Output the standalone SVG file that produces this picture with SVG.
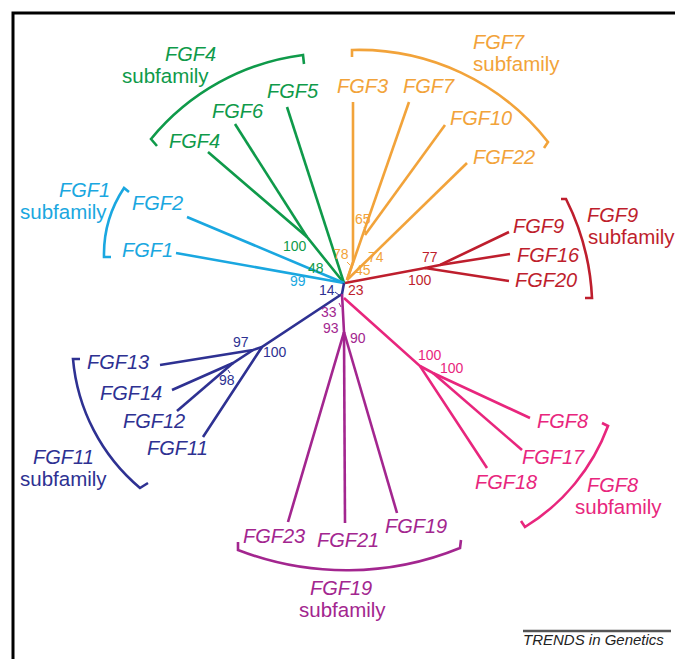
<svg xmlns="http://www.w3.org/2000/svg" width="675" height="659" viewBox="0 0 675 659">
  <style>
    .lbl { font-family: "Liberation Sans", Arial, sans-serif; font-size: 20px; font-style: italic; }
    .sub { font-family: "Liberation Sans", Arial, sans-serif; font-size: 20.5px; }
    .num { font-family: "Liberation Sans", Arial, sans-serif; font-size: 14px; }
    .br { fill: none; stroke-width: 2.6; stroke-linejoin: miter; }
    line, polyline { stroke-width: 2.6; fill: none; stroke-linecap: butt; }
    .tick { stroke-width: 1; }
    .green { fill: #0f9a4a; } .s-green { stroke: #0f9a4a; }
    .orange { fill: #f2a33a; } .s-orange { stroke: #f2a33a; }
    .red { fill: #be1e2d; } .s-red { stroke: #be1e2d; }
    .blue { fill: #1aa7e0; } .s-blue { stroke: #1aa7e0; }
    .navy { fill: #2e3192; } .s-navy { stroke: #2e3192; }
    .mag { fill: #a3268f; } .s-mag { stroke: #a3268f; }
    .pink { fill: #e8267d; } .s-pink { stroke: #e8267d; }
  </style>

  <!-- frame -->
  <path d="M13,659 V13 H675" fill="none" stroke="#000" stroke-width="3"/>

  <!-- tree branches -->
  <g id="connectors">
    <!-- FGF4 subfamily -->
    <polyline class="s-green" points="208,152 307,237 344,283"/>
    <line class="s-green" x1="235" y1="124" x2="307" y2="237"/>
    <line class="s-green" x1="287" y1="107" x2="344" y2="283"/>
    <!-- FGF7 subfamily -->
    <polyline class="s-orange" points="353,102 353,262 347,280"/>
    <line class="s-orange" x1="409" y1="102" x2="347" y2="280"/>
    <line class="s-orange" x1="445" y1="125" x2="365" y2="235"/>
    <line class="s-orange" x1="467" y1="163" x2="347" y2="280"/>
    <!-- FGF9 subfamily -->
    <polyline class="s-red" points="345,283 425,268 509,281"/>
    <polyline class="s-red" points="425,268 440,265 509,232"/>
    <line class="s-red" x1="440" y1="265" x2="510" y2="254"/>
    <!-- FGF1 subfamily -->
    <line class="s-blue" x1="187" y1="217" x2="344" y2="283"/>
    <line class="s-blue" x1="176" y1="253" x2="344" y2="283"/>
    <!-- FGF11 subfamily -->
    <polyline class="s-navy" points="344,283 342,294 262,347 203,437"/>
    <polyline class="s-navy" points="160,365 253,350 262,347"/>
    <polyline class="s-navy" points="172,390 233,363 253,350"/>
    <line class="s-navy" x1="177" y1="411" x2="233" y2="363"/>
    <!-- FGF19 subfamily -->
    <polyline class="s-mag" points="342,294 344,332 288,522"/>
    <line class="s-mag" x1="344" y1="332" x2="345" y2="523"/>
    <line class="s-mag" x1="344" y1="332" x2="397" y2="513"/>
    <!-- FGF8 subfamily -->
    <polyline class="s-pink" points="344,298 420,366 487,468"/>
    <polyline class="s-pink" points="420,366 433,373 530,418"/>
    <line class="s-pink" x1="433" y1="373" x2="522" y2="450"/>
    <!-- small leader ticks for crowded support values -->
    <line class="tick s-orange" x1="364" y1="227" x2="366" y2="233"/>
    <line class="tick s-orange" x1="347" y1="262" x2="350" y2="265"/>
    <line class="tick s-navy" x1="335" y1="292" x2="339" y2="295"/>
    <line class="tick s-mag" x1="339" y1="303" x2="341" y2="307"/>
    <line class="tick s-navy" x1="228" y1="370" x2="230" y2="373"/>
  </g>

  <!-- support values -->
  <g id="support">
    <text class="num orange" x="355" y="224">65</text>
    <text class="num orange" x="333" y="259">78</text>
    <text class="num orange" x="368" y="262">74</text>
    <text class="num orange" x="355" y="275">45</text>
    <text class="num green" x="283" y="251">100</text>
    <text class="num green" x="308" y="273">48</text>
    <text class="num blue" x="290" y="286">99</text>
    <text class="num navy" x="319" y="295">14</text>
    <text class="num red" x="348" y="295">23</text>
    <text class="num mag" x="321" y="317">33</text>
    <text class="num red" x="422" y="262">77</text>
    <text class="num red" x="408" y="285">100</text>
    <text class="num navy" x="233" y="347">97</text>
    <text class="num navy" x="263" y="357">100</text>
    <text class="num navy" x="219" y="385">98</text>
    <text class="num mag" x="323" y="333">93</text>
    <text class="num mag" x="350" y="343">90</text>
    <text class="num pink" x="418" y="360">100</text>
    <text class="num pink" x="440" y="373">100</text>
  </g>

  <!-- FGF4 subfamily -->
  <g id="fgf4-subfamily">
    <text class="lbl green" x="169" y="148">FGF4</text>
    <text class="lbl green" x="212" y="118">FGF6</text>
    <text class="lbl green" x="267" y="98">FGF5</text>
    <path class="br s-green" d="M157,146 L151,139 A235,235 0 0 1 303,55 L304,64"/>
    <text class="lbl green" x="165" y="61">FGF4</text>
    <text class="sub green" x="122" y="83">subfamily</text>
  </g>

  <!-- FGF7 subfamily -->
  <g id="fgf7-subfamily">
    <text class="lbl orange" x="337" y="93">FGF3</text>
    <text class="lbl orange" x="403" y="93">FGF7</text>
    <text class="lbl orange" x="450" y="125">FGF10</text>
    <text class="lbl orange" x="473" y="164">FGF22</text>
    <path class="br s-orange" d="M352,57 L352,50 A240,240 0 0 1 548,142 L544,148"/>
    <text class="lbl orange" x="473" y="49">FGF7</text>
    <text class="sub orange" x="473" y="71">subfamily</text>
  </g>

  <!-- FGF9 subfamily -->
  <g id="fgf9-subfamily">
    <text class="lbl red" x="513" y="233">FGF9</text>
    <text class="lbl red" x="517" y="262">FGF16</text>
    <text class="lbl red" x="515" y="287">FGF20</text>
    <path class="br s-red" d="M561,199 L566,199 A245,245 0 0 1 592,298 L585,298"/>
    <text class="lbl red" x="587" y="222">FGF9</text>
    <text class="sub red" x="588" y="244">subfamily</text>
  </g>

  <!-- FGF1 subfamily -->
  <g id="fgf1-subfamily">
    <text class="lbl blue" x="132" y="210">FGF2</text>
    <text class="lbl blue" x="122" y="257">FGF1</text>
    <path class="br s-blue" d="M129,192 L124,188 A120,120 0 0 0 104,257 L111,257"/>
    <text class="lbl blue" x="59" y="197">FGF1</text>
    <text class="sub blue" x="20" y="219">subfamily</text>
  </g>

  <!-- FGF11 subfamily -->
  <g id="fgf11-subfamily">
    <text class="lbl navy" x="87" y="369">FGF13</text>
    <text class="lbl navy" x="100" y="400">FGF14</text>
    <text class="lbl navy" x="123" y="428">FGF12</text>
    <text class="lbl navy" x="147" y="455">FGF11</text>
    <path class="br s-navy" d="M80,359 L73,359 A190,190 0 0 0 140,488 L148,483"/>
    <text class="lbl navy" x="33" y="464">FGF11</text>
    <text class="sub navy" x="20" y="486">subfamily</text>
  </g>

  <!-- FGF19 subfamily -->
  <g id="fgf19-subfamily">
    <text class="lbl mag" x="243" y="543">FGF23</text>
    <text class="lbl mag" x="317" y="547">FGF21</text>
    <text class="lbl mag" x="385" y="533">FGF19</text>
    <path class="br s-mag" d="M238,542 L238,550 A300,300 0 0 0 460,548 L461,540"/>
    <text class="lbl mag" x="310" y="595">FGF19</text>
    <text class="sub mag" x="299" y="617">subfamily</text>
  </g>

  <!-- FGF8 subfamily -->
  <g id="fgf8-subfamily">
    <text class="lbl pink" x="537" y="428">FGF8</text>
    <text class="lbl pink" x="522" y="464">FGF17</text>
    <text class="lbl pink" x="475" y="489">FGF18</text>
    <path class="br s-pink" d="M602,423 L608,426 A200,200 0 0 1 525,527 L521,521"/>
    <text class="lbl pink" x="587" y="492">FGF8</text>
    <text class="sub pink" x="575" y="514">subfamily</text>
  </g>

  <!-- journal credit -->
  <g id="credit">
    <line x1="523" y1="631" x2="671" y2="631" stroke="#555" stroke-width="0.8"/>
    <text x="523" y="645" font-family="'Liberation Sans', Arial, sans-serif" font-size="15" font-style="italic" fill="#222">TRENDS in Genetics</text>
  </g>
</svg>
